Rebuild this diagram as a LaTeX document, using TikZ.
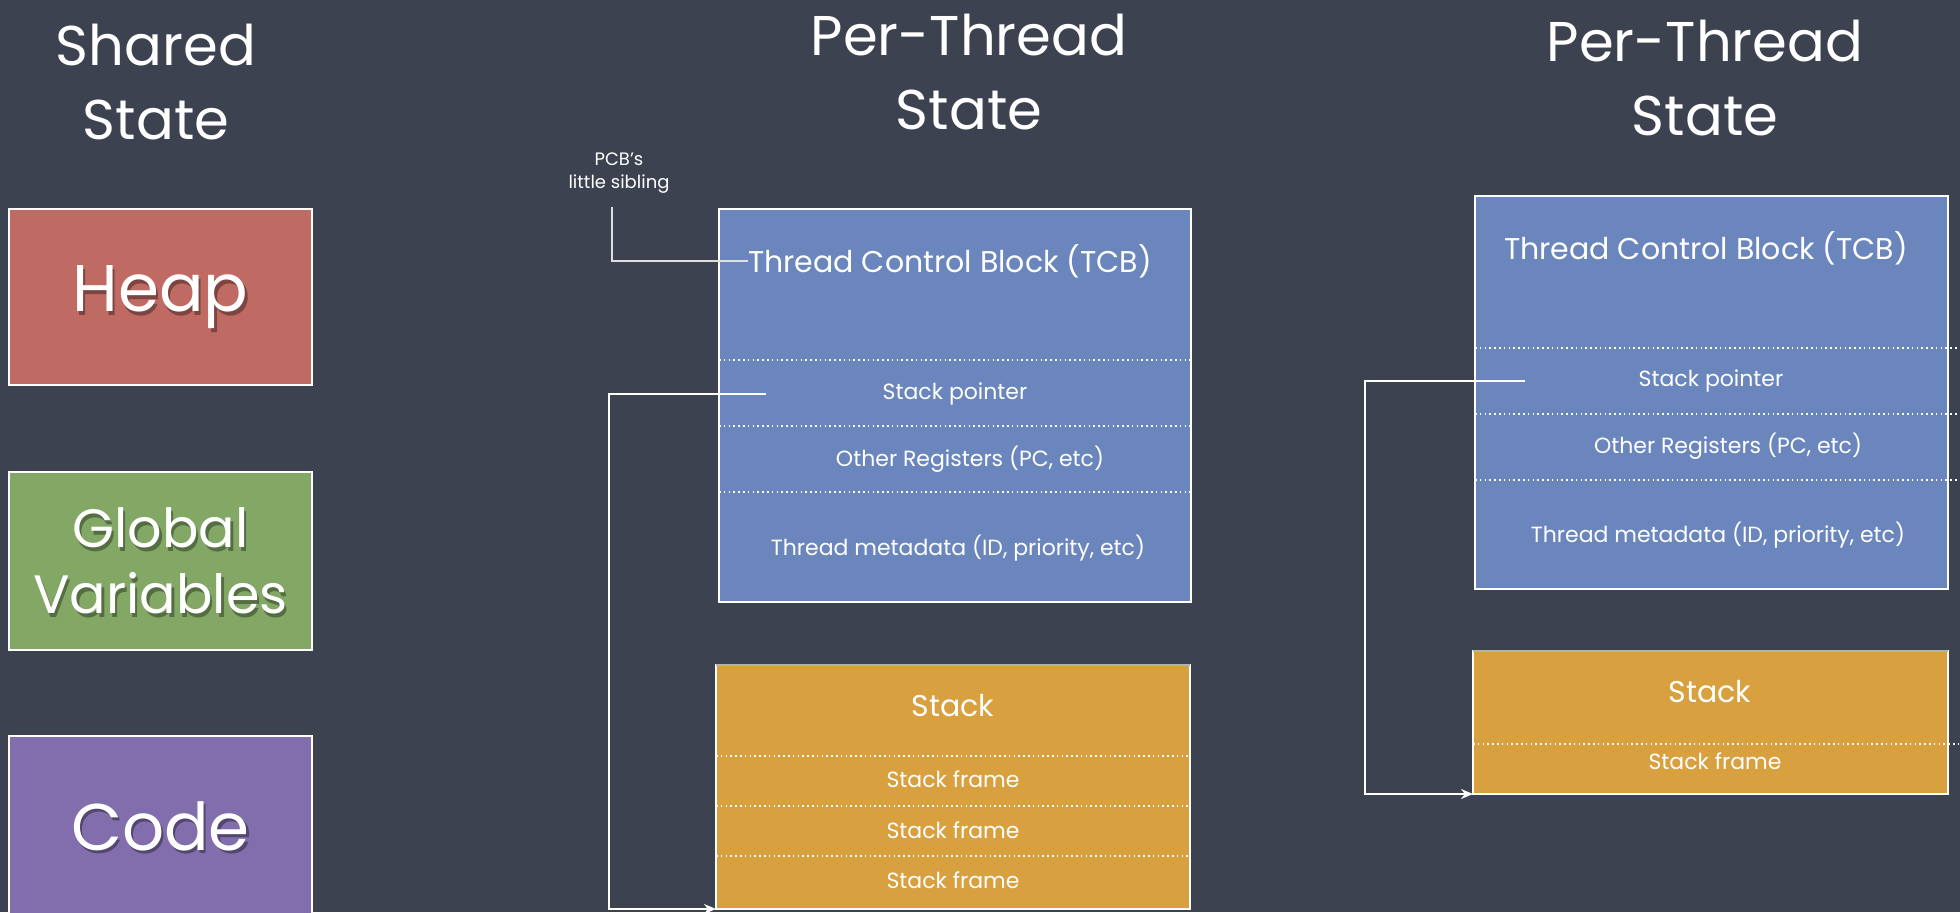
\documentclass[tikz,border=0pt]{standalone}
\usepackage{fontspec}
\setmainfont{Poppins}
\usetikzlibrary{arrows.meta}

\definecolor{board}{RGB}{61,66,80}
\definecolor{heapred}{RGB}{192,106,100}
\definecolor{globgreen}{RGB}{131,168,102}
\definecolor{codepurple}{RGB}{130,110,172}
\definecolor{tcbblue}{RGB}{106,134,188}
\definecolor{stackgold}{RGB}{216,160,62}

\tikzset{
  blk/.style={draw=white, line width=1pt, inner sep=0pt, outer sep=0pt, anchor=north west},
  title/.style={text=white, align=center, font=\fontsize{28}{37}\selectfont},
  bigname/.style 2 args={text=white, align=center, font=\fontsize{#1}{#2}\selectfont},
  lbl/.style={text=white, inner sep=0pt, font=\fontsize{#1}{#1}\selectfont},
  sep/.style={white, line width=0.8pt, dash pattern=on 0.8pt off 1.6pt},
  conn/.style={white, line width=1pt, -{Stealth[length=6pt,width=5pt]}},
  callout/.style={gray!25!white, line width=0.6pt},
}

% white text with a soft dark drop shadow: position, size, baseline, text
\newcommand{\shadowtext}[4]{%
  \node[bigname={#2}{#3}, text=black, opacity=0.35] at ([xshift=1.2pt,yshift=-1.8pt]#1) {#4};
  \node[bigname={#2}{#3}] at (#1) {#4};
}

\begin{document}
\begin{tikzpicture}[x=0.5pt, y=-0.5pt]
  \fill[board] (0,0) rectangle (1960,912);
  \useasboundingbox (0,0) rectangle (1960,912);

  % column titles
  \node[title] (tshared) at (156,82) {Shared\\State};
  \node[title] (tper1) at (969,72) {Per-Thread\\State};
  \node[title] (tper2) at (1705,78) {Per-Thread\\State};

  % shared state blocks
  \node[blk, fill=heapred, minimum width=151.5pt, minimum height=88pt] (heap) at (9,209) {};
  \node[blk, fill=globgreen, minimum width=151.5pt, minimum height=89pt] (glob) at (9,472) {};
  \node[blk, fill=codepurple, minimum width=151.5pt, minimum height=90pt] (code) at (9,736) {};
  \shadowtext{heap.center}{33}{40}{Heap}
  \shadowtext{glob.center}{27}{33}{Global\\Variables}
  \shadowtext{code.center}{33}{40}{Code}

  % ---------- first thread ----------
  \node[blk, fill=tcbblue, minimum width=236pt, minimum height=196.5pt] (tcb1) at (719,209) {};
  \draw[sep] (tcb1.west |- 0,360) -- (tcb1.east |- 0,360);
  \draw[sep] (tcb1.west |- 0,426) -- (tcb1.east |- 0,426);
  \draw[sep] (tcb1.west |- 0,492) -- (tcb1.east |- 0,492);
  \node[lbl=15] (tcbname1) at (950,261) {Thread Control Block (TCB)};
  \node[lbl=11] (sp1) at (955,394) {Stack pointer};
  \node[lbl=11] (oreg1) at (970,459) {Other Registers (PC, etc)};
  \node[lbl=11] (meta1) at (958,548) {Thread metadata (ID, priority, etc)};

  \node[blk, fill=stackgold, minimum width=237pt, minimum height=122pt] (stk1) at (716,665) {};
  \draw[gray!60, line width=1pt] (stk1.north west) -- (stk1.north east);
  \draw[sep] (stk1.west |- 0,756) -- (stk1.east |- 0,756);
  \draw[sep] (stk1.west |- 0,806) -- (stk1.east |- 0,806);
  \draw[sep] (stk1.west |- 0,856) -- (stk1.east |- 0,856);
  \node[lbl=15] (stkname1) at (953,706) {Stack};
  \node[lbl=11] (fr1a) at (953,779) {Stack frame};
  \node[lbl=11] (fr1b) at (953,830) {Stack frame};
  \node[lbl=11] (fr1c) at (953,880) {Stack frame};

  % note on the TCB
  \node[text=white, align=center, font=\fontsize{9}{11.5}\selectfont] (note) at (619,173) {PCB’s\\little sibling};
  \coordinate (notefoot) at (612,207);
  \draw[callout] (notefoot) |- (tcbname1.west);

  % stack pointer of the first thread
  \coordinate (sp1tail) at (766,394);
  \coordinate (sp1bend) at (609,394);
  \draw[conn] (sp1tail) -- (sp1bend) |- (stk1.south west);

  % ---------- second thread ----------
  \node[blk, fill=tcbblue, minimum width=236.5pt, minimum height=196.5pt] (tcb2) at (1475,196) {};
  \draw[sep] (tcb2.west |- 0,348) -- (1960,348);
  \draw[sep] (tcb2.west |- 0,414) -- (1960,414);
  \draw[sep] (tcb2.west |- 0,480) -- (1960,480);
  \node[lbl=15] (tcbname2) at (1706,248) {Thread Control Block (TCB)};
  \node[lbl=11] (sp2) at (1711,381) {Stack pointer};
  \node[lbl=11] (oreg2) at (1728,446) {Other Registers (PC, etc)};
  \node[lbl=11] (meta2) at (1718,535) {Thread metadata (ID, priority, etc)};

  \node[blk, fill=stackgold, minimum width=237.5pt, minimum height=71.5pt] (stk2) at (1473,651) {};
  \draw[gray!60, line width=1pt] (stk2.north west) -- (stk2.north east);
  \draw[sep] (stk2.west |- 0,744) -- (1960,744);
  \node[lbl=15] (stkname2) at (1710,692) {Stack};
  \node[lbl=11] (fr2a) at (1715,761) {Stack frame};

  % stack pointer of the second thread
  \coordinate (sp2tail) at (1525,381);
  \coordinate (sp2bend) at (1365,381);
  \draw[conn] (sp2tail) -- (sp2bend) |- (stk2.south west);
\end{tikzpicture}
\end{document}
